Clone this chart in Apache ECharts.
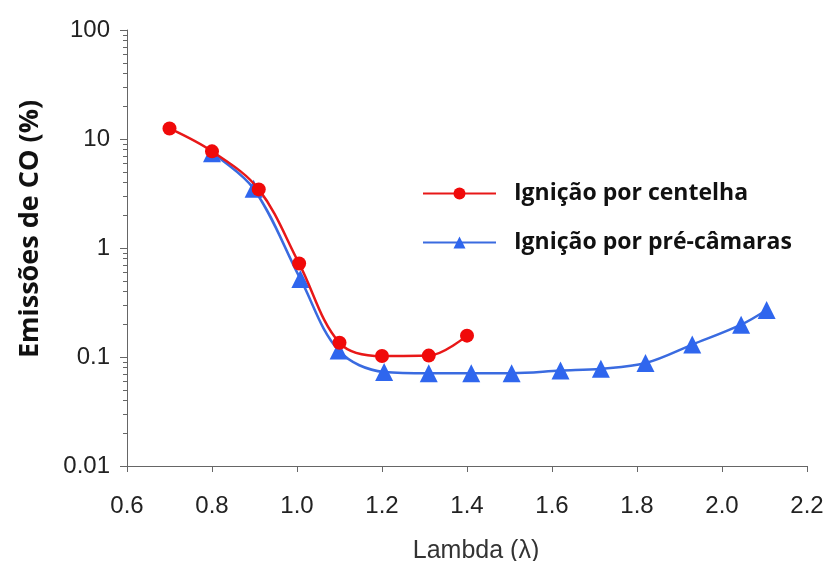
<!DOCTYPE html>
<html><head><meta charset="utf-8">
<script src="https://cdn.jsdelivr.net/npm/echarts@6/dist/echarts.min.js"></script>
<style>html,body{margin:0;padding:0;background:#fff}#c{width:829px;height:561px}</style>
</head><body><div id="c"></div>
<script>
var seriesNames = ['Ignição por centelha', 'Ignição por pré-câmaras'];
var sparkX = [0.70, 0.80, 0.91, 1.005, 1.10, 1.20, 1.31, 1.40];
var sparkY = [12.5, 7.7, 3.45, 0.72, 0.135, 0.102, 0.103, 0.157];
var prechX = [0.80, 0.898, 1.008, 1.098, 1.205, 1.31, 1.41, 1.505, 1.62, 1.715, 1.82, 1.93, 2.045, 2.105];
var prechY = [7.4, 3.5, 0.52, 0.115, 0.073, 0.071, 0.071, 0.071, 0.075, 0.078, 0.088, 0.13, 0.198, 0.27];
var yMajor = [0.01, 0.1, 1, 10, 100];
var yMinor = [];
[0.01, 0.1, 1, 10].forEach(function (d) { for (var k = 2; k <= 9; k++) yMinor.push(+(d * k).toPrecision(3)); });

function pairs(xs, ys) { return xs.map(function (x, i) { return [x, ys[i]]; }); }

var chart = echarts.init(document.getElementById('c'));
var labelStyle = { color: '#222', fontSize: 24, fontFamily: 'Liberation Sans, Arial, sans-serif' };
var legendText = { color: '#111', fontSize: 23, fontWeight: 'bold', fontFamily: 'Open Sans, sans-serif', padding: [0, 0, 0, 13] };
chart.setOption({
  animation: false,
  grid: { left: 127, right: 22, top: 30, bottom: 95, outerBoundsMode: 'none', containLabel: false },
  legend: [{
    left: 417, top: 177, itemWidth: 73, itemHeight: 15, textStyle: legendText, data: [seriesNames[0]]
  }, {
    left: 417, top: 226, itemWidth: 73, itemHeight: 15, textStyle: legendText, data: [seriesNames[1]]
  }],
  xAxis: {
    type: 'value', min: 0.6, max: 2.2, interval: 0.2,
    name: 'Lambda (λ)', nameLocation: 'middle', nameGap: 73,
    nameTextStyle: { color: '#333', fontSize: 25, fontFamily: 'Liberation Sans, Arial, sans-serif', padding: [0, 0, 0, 18] },
    axisLine: { lineStyle: { color: '#666', width: 1 } },
    axisTick: { length: 6, lineStyle: { color: '#666' } },
    axisLabel: Object.assign({ margin: 28, formatter: function (v) { return v.toFixed(1); } }, labelStyle),
    splitLine: { show: false }
  },
  yAxis: [{
    type: 'log', logBase: 10, min: 0.01, max: 100,
    axisLine: { show: true, lineStyle: { color: '#666', width: 1 } },
    axisTick: { show: true, length: 7, lineStyle: { color: '#666' }, customValues: yMajor },
    axisLabel: Object.assign({ margin: 17, customValues: yMajor, formatter: function (v) { return String(+v.toPrecision(3)); } }, labelStyle),
    splitLine: { show: false }
  }, {
    type: 'log', logBase: 10, min: 0.01, max: 100, position: 'left',
    axisLine: { show: false },
    axisTick: { show: true, length: 4, lineStyle: { color: '#666' }, customValues: yMinor },
    axisLabel: { show: false },
    splitLine: { show: false }
  }],
  graphic: [{
    type: 'text', x: 30, y: 229, rotation: Math.PI / 2,
    style: { text: 'Emissões de CO (%)', fill: '#111', font: 'bold 27px "Open Sans", sans-serif', align: 'center', verticalAlign: 'middle' }
  }],
  series: [{
    name: seriesNames[0], type: 'line', smooth: 0.35, data: pairs(sparkX, sparkY),
    symbol: 'circle', symbolSize: 14,
    itemStyle: { color: '#f00a0a' }, lineStyle: { color: '#e81818', width: 2.5 }, z: 3
  }, {
    name: seriesNames[1], type: 'line', smooth: 0.35, data: pairs(prechX, prechY),
    symbol: 'triangle', symbolSize: 18,
    itemStyle: { color: '#2f66ee' }, lineStyle: { color: '#3a6be0', width: 2.5 }, z: 2
  }]
});
</script></body></html>
